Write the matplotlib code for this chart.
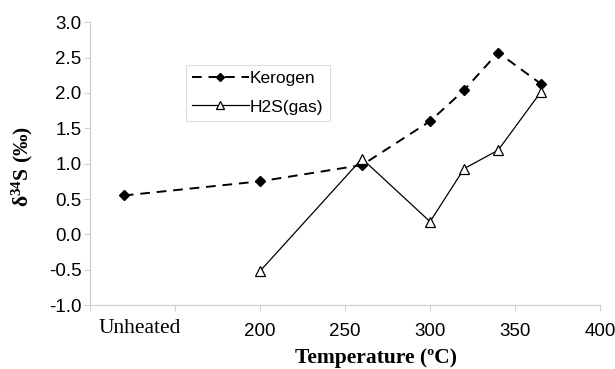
import matplotlib
matplotlib.use("Agg")
import matplotlib.pyplot as plt

# Sulfur isotope composition vs. heating temperature
kerogen_t = [120, 200, 260, 300, 320, 340, 365]
kerogen_d34s = [0.55, 0.75, 0.98, 1.60, 2.04, 2.57, 2.13]

h2s_t = [200, 260, 300, 320, 340, 365]
h2s_d34s = [-0.52, 1.07, 0.18, 0.93, 1.19, 2.01]

x_ticks = [100, 150, 200, 250, 300, 350, 400]
x_tick_labels = ["", "", "200", "250", "300", "350", "400"]
y_ticks = [-1.0, -0.5, 0.0, 0.5, 1.0, 1.5, 2.0, 2.5, 3.0]
unheated_label = "Unheated"

sans = ["Liberation Sans", "DejaVu Sans"]
serif = ["Liberation Serif", "DejaVu Serif"]

plt.rcParams["mathtext.fontset"] = "custom"
plt.rcParams["mathtext.rm"] = "Liberation Serif:bold"
plt.rcParams["mathtext.bf"] = "Liberation Serif:bold"
plt.rcParams["mathtext.it"] = "Liberation Serif:bold"

fig = plt.figure(figsize=(6.15, 3.69), dpi=100)
ax = fig.add_axes([0.146, 0.173, 0.830, 0.767])

ax.plot(kerogen_t, kerogen_d34s, color="black", lw=1.4, ls=(0, (5, 3.5)),
        marker="D", ms=5.5, mfc="black", mec="black", label="Kerogen")
ax.plot(h2s_t, h2s_d34s, color="black", lw=0.9, ls="-",
        marker="^", ms=7, mfc="white", mec="black", mew=0.9, label="H2S(gas)")

ax.set_xlim(100, 400)
ax.set_ylim(-1.0, 3.0)
ax.set_xticks(x_ticks)
ax.set_xticklabels(x_tick_labels, fontfamily=sans, fontsize=13.5)
ax.set_yticks(y_ticks)
ax.set_yticklabels([f"{v:.1f}" for v in y_ticks], fontfamily=sans, fontsize=13.5)
ax.tick_params(axis="both", color="#d0d0d0", length=4, width=0.8)
ax.tick_params(axis="y", pad=2)
ax.tick_params(axis="x", pad=9)

for side in ("top", "right"):
    ax.spines[side].set_visible(False)
for side in ("left", "bottom"):
    ax.spines[side].set_color("#d0d0d0")
    ax.spines[side].set_linewidth(0.9)

ax.text(129.5, -1.2, unheated_label, ha="center", va="top",
        fontfamily=serif, fontsize=15.5)

ax.set_xlabel("Temperature (ºC)", fontfamily=serif, fontsize=15.5,
              fontweight="bold")
ax.xaxis.set_label_coords(0.561, -0.152)
ax.set_ylabel(r"δ$^{34}$S (‰)", fontfamily=serif, fontsize=15.5,
              fontweight="bold")
ax.yaxis.set_label_coords(-0.108, 0.49)

leg = ax.legend(loc="upper left", bbox_to_anchor=(0.188, 0.848),
                prop={"family": sans, "size": 12.5}, frameon=True,
                fancybox=False, edgecolor="#d8d8d8", handlelength=3.3,
                handletextpad=0.05, borderpad=0.35, labelspacing=0.75,
                borderaxespad=0, markerscale=0.8)
leg.get_frame().set_linewidth(0.8)

fig.savefig("out.png", dpi=100)
